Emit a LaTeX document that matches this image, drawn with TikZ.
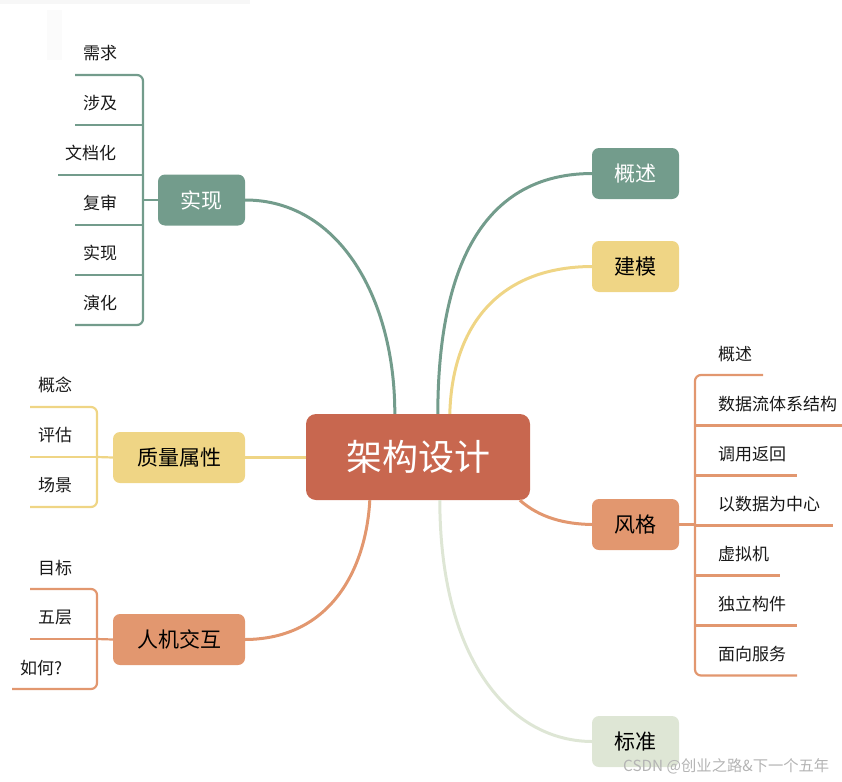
\documentclass[tikz,border=0pt]{standalone}
\usepackage{fontspec}
\setmainfont{Noto Sans CJK SC}
\definecolor{cgreen}{HTML}{739C8C}
\definecolor{cyellow}{HTML}{EFD585}
\definecolor{csalmon}{HTML}{E2976F}
\definecolor{cred}{HTML}{C8674F}
\definecolor{clight}{HTML}{DEE6D5}
\definecolor{cmark}{HTML}{B4B4B4}
\tikzset{
  box/.style={rounded corners=7pt, minimum width=87pt, minimum height=51pt, inner sep=0pt, font=\fontsize{21}{21}\selectfont},
  conn/.style={line width=3pt},
  brk/.style={line width=2.2pt, rounded corners=6pt},
  sub/.style={line width=2.2pt},
  leaf/.style={anchor=west, inner sep=0pt, font=\fontsize{17}{17}\selectfont, text=black!90}
}
\begin{document}
\begin{tikzpicture}[x=1pt,y=-1pt]
\useasboundingbox (0,0) rectangle (842,781);
% faint artefacts
\fill[black!3] (0,0) rectangle (250,4);
\fill[black!1.5] (47,10) rectangle (62,60);

% main nodes
\node[rounded corners=10pt, minimum width=224pt, minimum height=86pt, inner sep=0pt, fill=cred, text=white, font=\fontsize{36}{36}\selectfont] (center) at (418,457) {架构设计};
\node[box, fill=cgreen, text=white] (shixian) at (201.5,200) {实现};
\node[box, fill=cgreen, text=white] (gaishu) at (635.5,173.5) {概述};
\node[box, fill=cyellow] (jianmo) at (635.5,266.5) {建模};
\node[box, fill=csalmon] (fengge) at (635.5,524.5) {风格};
\node[box, fill=clight] (biaozhun) at (635.5,741.5) {标准};
\node[box, minimum width=132pt, fill=cyellow] (zhiliang) at (179,457.5) {质量属性};
\node[box, minimum width=132pt, fill=csalmon] (renji) at (179,639.5) {人机交互};

% main connectors
\draw[conn, cgreen] (shixian.east) .. controls (340,200) and (395,300) .. ([xshift=89pt]center.north west);
\draw[conn, cgreen] (gaishu.west) .. controls (470,174) and (438,290) .. ([xshift=132pt]center.north west);
\draw[conn, cyellow] (jianmo.west) .. controls (495,267) and (452,330) .. ([xshift=144pt]center.north west);
\draw[conn, csalmon] ([xshift=214pt]center.south west) .. controls (540,518) and (565,524) .. (fengge.west);
\draw[conn, clight] ([xshift=134pt]center.south west) .. controls (440,660) and (510,741) .. (biaozhun.west);
\draw[conn, cyellow] (zhiliang.east) -- (center.west |- zhiliang.east);
\draw[conn, csalmon] (renji.east) .. controls (330,639) and (366,570) .. ([xshift=64pt]center.south west);

% 实现 children
\coordinate (sxb) at (143,200);
\draw[sub, cgreen] (shixian.west) -- (sxb);
\draw[brk, cgreen] (75,75) -- (143,75) -- (143,325) -- (75,325);
\draw[sub, cgreen] (75,125) -- (143,125);
\draw[sub, cgreen] (58,175) -- (143,175);
\draw[sub, cgreen] (75,225) -- (143,225);
\draw[sub, cgreen] (75,275) -- (143,275);
\node[leaf] (s1) at (83,53) {需求};
\node[leaf] (s2) at (83,103) {涉及};
\node[leaf] (s3) at (65,153) {文档化};
\node[leaf] (s4) at (83,203) {复审};
\node[leaf] (s5) at (83,253) {实现};
\node[leaf] (s6) at (83,303) {演化};

% 质量属性 children
\coordinate (zlb) at (97,457);
\draw[sub, cyellow] (zhiliang.west) -- (zlb);
\draw[brk, cyellow] (30,407) -- (97,407) -- (97,507) -- (30,507);
\draw[sub, cyellow] (30,457) -- (97,457);
\node[leaf] (z1) at (38,385) {概念};
\node[leaf] (z2) at (38,435) {评估};
\node[leaf] (z3) at (38,485) {场景};

% 人机交互 children
\coordinate (rjb) at (97,639);
\draw[sub, csalmon] (renji.west) -- (rjb);
\draw[brk, csalmon] (30,589) -- (97,589) -- (97,689) -- (12,689);
\draw[sub, csalmon] (30,639) -- (97,639);
\node[leaf] (r1) at (38,568) {目标};
\node[leaf] (r2) at (38,618) {五层};
\node[leaf] (r3) at (20,668) {如何?};

% 风格 children
\coordinate (fgb) at (695,524.5);
\draw[sub, csalmon] (fengge.east) -- (fgb);
\draw[brk, csalmon] (763,375) -- (695,375) -- (695,675.5) -- (797,675.5);
\draw[sub, csalmon] (695,425.5) -- (842,425.5);
\draw[sub, csalmon] (695,475.5) -- (797,475.5);
\draw[sub, csalmon] (695,525.5) -- (833,525.5);
\draw[sub, csalmon] (695,575.5) -- (780,575.5);
\draw[sub, csalmon] (695,625.5) -- (797,625.5);
\node[leaf] (f1) at (718,354) {概述};
\node[leaf] (f2) at (718,404) {数据流体系结构};
\node[leaf] (f3) at (718,454) {调用返回};
\node[leaf] (f4) at (718,504) {以数据为中心};
\node[leaf] (f5) at (718,554) {虚拟机};
\node[leaf] (f6) at (718,604) {独立构件};
\node[leaf] (f7) at (718,654) {面向服务};

% watermark
\node[anchor=west, inner sep=0pt, text=cmark, font=\fontsize{15.3}{15.3}\selectfont] (wm) at (623,766) {CSDN @创业之路\&下一个五年};
\end{tikzpicture}
\end{document}
